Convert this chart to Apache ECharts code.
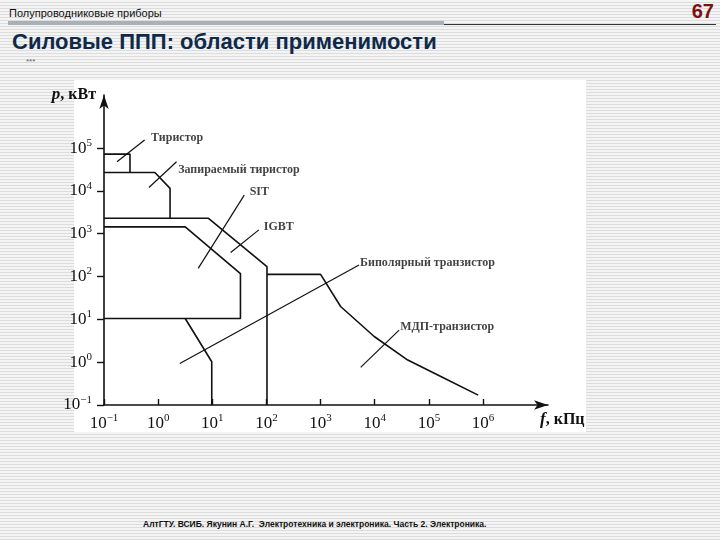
<!DOCTYPE html>
<html><head><meta charset="utf-8">
<script src="https://cdn.jsdelivr.net/npm/echarts@6/dist/echarts.min.js"></script>
<style>
body{margin:0;width:720px;height:540px;overflow:hidden;position:relative;
background:repeating-linear-gradient(to bottom,#f4f4f4 0,#f4f4f4 2px,#dcdcdc 2px,#dcdcdc 3px);font-family:Arial,"Liberation Sans",sans-serif;}
#hdr{position:absolute;left:9px;top:7px;font-size:11px;color:#111;}
#bar{position:absolute;left:8px;top:21px;width:436px;height:4px;background:#a8b0b8;}
#ln{position:absolute;left:444px;top:24px;width:272px;height:1px;background:#333;}
#num{position:absolute;right:6px;top:0px;font-size:20px;font-weight:bold;color:#7a1010;}
#ttl{position:absolute;left:12px;top:29px;font-size:22px;font-weight:bold;color:#0e2a4a;}
#st{position:absolute;left:26px;top:57px;font-size:8px;color:#666;}
#wh{position:absolute;left:74px;top:80px;width:512px;height:352px;background:#fff;}
#ft{position:absolute;left:143px;top:519px;font-size:8.5px;font-weight:bold;color:#111;}
#c{position:absolute;left:0;top:0;width:720px;height:540px;}
</style></head><body>
<div id="hdr">Полупроводниковые приборы</div><div id="bar"></div><div id="ln"></div>
<div id="num">67</div>
<div id="ttl">Силовые ППП: области применимости</div>
<div id="st">***</div>
<div id="wh"></div>
<div id="ft">АлтГТУ. ВСИБ. Якунин А.Г.&nbsp; Электротехника и электроника. Часть 2. Электроника.</div>
<div id="c"></div>
<script>
// values in log10 units (exponents of 10)
const xTicks=[-1,0,1,2,3,4,5,6];
const yTicks=[-1,0,1,2,3,4,5];
const thyristor=[[-1,4.86],[-0.52,4.86],[-0.52,4.43]];
const gto=[[-1,4.43],[-0.06,4.43],[0.22,4.06],[0.22,3.36]];
const sit=[[-1,3.36],[0.93,3.36],[2.01,2.23],[2.01,-1]];
const igbt=[[-1,3.16],[0.50,3.16],[1.52,2.07],[1.52,1.02],[-1,1.02]];
const bipolar=[[0.50,1.02],[0.99,0.01],[0.99,-1]];
const mosfet=[[2.01,2.05],[3.0,2.05],[3.37,1.30],[3.99,0.60],[4.61,0.05],[5.23,-0.34],[5.91,-0.77]];
const leaders=[
 [[-0.76,4.68],[-0.25,5.19]],
 [[-0.17,4.08],[0.34,4.68]],
 [[0.74,2.19],[1.59,3.90]],
 [[1.34,2.56],[1.86,3.09]],
 [[0.40,-0.03],[3.71,2.27]],
 [[3.74,-0.12],[4.45,0.75]]];
const labels=[
 {name:'Тиристор',value:[-0.13,5.23]},
 {name:'Запираемый тиристор',value:[0.37,4.5]},
 {name:'SIT',value:[1.69,3.98]},
 {name:'IGBT',value:[1.95,3.17]},
 {name:'Биполярный транзистор',value:[3.73,2.33]},
 {name:'МДП-транзистор',value:[4.47,0.83]}];
const sup=v=>'{b|10}{s|'+(v<0?'−'+(-v):v)+'}';
const ln=(d)=>({type:'line',data:d,symbol:'none',silent:true,lineStyle:{color:'#111',width:1.6},z:3});
const series=[thyristor,gto,sit,igbt,bipolar,mosfet].map(ln).concat(leaders.map(d=>{const s=ln(d);s.lineStyle.width=1.2;return s;}));
series.push({type:'scatter',data:labels,symbolSize:0,label:{show:true,position:'right',distance:0,formatter:p=>p.name,
 fontFamily:'Liberation Serif',fontWeight:'bold',fontSize:12,color:'#111'}});
const rich={b:{fontFamily:'Liberation Serif',fontSize:17,color:'#111'},s:{fontFamily:'Liberation Serif',fontSize:11,color:'#111',verticalAlign:'top',padding:[0,0,10,0]}};
const ch=echarts.init(document.getElementById('c'));
ch.setOption({animation:false,
 grid:{left:104,right:172,top:95,bottom:135},
 xAxis:{type:'value',min:-1,max:7.2,interval:1,
  axisLine:{onZero:false,lineStyle:{color:'#111',width:1.6},symbol:['none','arrow'],symbolSize:[7,14]},
  axisTick:{inside:true,length:6,customValues:xTicks,lineStyle:{color:'#111',width:1.4}},
  axisLabel:{customValues:xTicks,formatter:v=>sup(v),rich:rich,margin:8},
  splitLine:{show:false},
  name:'{i|f}, кПц',nameLocation:'end',nameGap:-8,
  nameTextStyle:{fontFamily:'Liberation Serif',fontSize:16,fontWeight:'bold',color:'#111',padding:[30,0,0,0],rich:{i:{fontStyle:'italic',fontFamily:'Liberation Serif',fontSize:17,fontWeight:'bold'}}}},
 yAxis:{type:'value',min:-1,max:6.24,interval:1,
  axisLine:{onZero:false,lineStyle:{color:'#111',width:1.6},symbol:['none','arrow'],symbolSize:[7,14]},
  axisTick:{length:7,customValues:yTicks,lineStyle:{color:'#111',width:1.4}},
  axisLabel:{customValues:yTicks,formatter:v=>sup(v),rich:rich,margin:12},
  splitLine:{show:false},
  name:'{i|p}, кВт',nameLocation:'end',nameGap:-8,
  nameTextStyle:{fontFamily:'Liberation Serif',fontSize:16,fontWeight:'bold',color:'#111',align:'right',padding:[0,8,0,0],rich:{i:{fontStyle:'italic',fontFamily:'Liberation Serif',fontSize:17,fontWeight:'bold'}}}},
 series:series});
</script></body></html>
